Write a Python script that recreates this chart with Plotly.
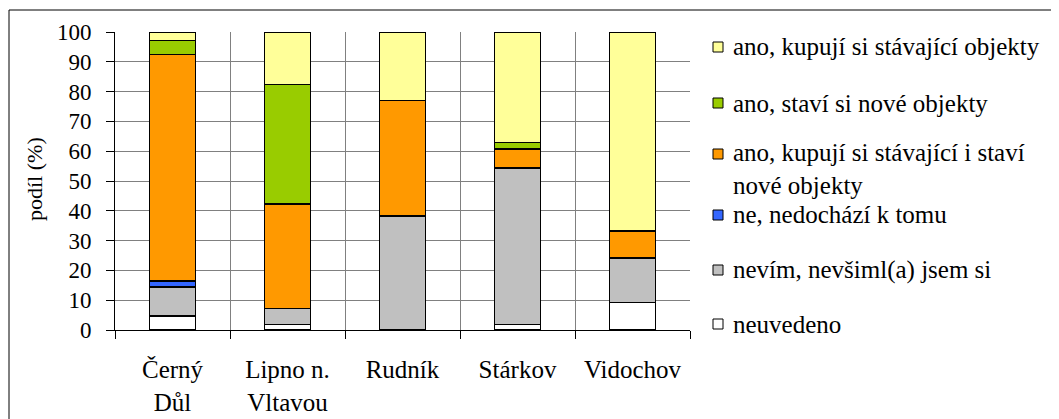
import plotly.graph_objects as go

categories = ["Černý<br>Důl", "Lipno n.<br>Vltavou", "Rudník", "Stárkov", "Vidochov"]

neuvedeno = [4.7, 1.9, 0.0, 1.9, 9.3]
nevim = [9.8, 5.3, 38.2, 52.4, 14.8]
ne_nedochazi = [2.0, 0.0, 0.0, 0.0, 0.0]
kupuji_i_stavi = [76.0, 35.0, 38.8, 6.4, 9.2]
stavi_nove = [4.6, 40.2, 0.0, 2.3, 0.0]
kupuji_stavajici = [2.9, 17.6, 23.0, 37.0, 66.7]

series_names = [
    "neuvedeno",
    "nevím, nevšiml(a) jsem si",
    "ne, nedochází k tomu",
    "ano, kupují si stávající i staví<br>nové objekty",
    "ano, staví si nové objekty",
    "ano, kupují si stávající objekty",
]
series_values = [neuvedeno, nevim, ne_nedochazi, kupuji_i_stavi, stavi_nove, kupuji_stavajici]
series_colors = ["#FFFFFF", "#C0C0C0", "#3366FF", "#FF9900", "#99CC00", "#FFFF99"]

y_ticks = list(range(0, 101, 10))
y_title = "podíl (%)"

OFF = 8  # page body margin of the HTML page
W, H = 1059 - OFF, 419 - OFF
L, R, T, B = 115 - OFF, 690 - OFF, 32 - OFF, 330 - OFF  # plot area in figure pixels


def px2x(px):  # screen px -> paper
    return (px - OFF - L) / (R - L)


def py2y(py):
    return (B - (py - OFF)) / (B - T)


FONT = "'Liberation Serif', 'Times New Roman', 'DejaVu Serif', serif"
LEG_SIZE = 25

fig = go.Figure()
for name, vals, col in zip(series_names, series_values, series_colors):
    fig.add_trace(go.Bar(
        x=categories, y=vals, name=name,
        marker=dict(color=col, line=dict(color="black", width=1.5)),
        showlegend=False,
    ))

# manual legend
legend_y = [324, 270, 215, 154, 103, 47]  # symbol centres (screen px), series in stacking order
shapes = []
annotations = []
for name, col, yc in zip(series_names, series_colors, legend_y):
    shapes.append(dict(type="rect", xref="paper", yref="paper",
                       x0=px2x(713), x1=px2x(723), y0=py2y(yc + 5), y1=py2y(yc - 5),
                       fillcolor=col, line=dict(color="black", width=1)))
    if "<br>" in name:
        annotations.append(dict(xref="paper", yref="paper", x=px2x(732), y=py2y(yc - 16),
                                xanchor="left", yanchor="top", align="left", showarrow=False,
                                borderpad=0,
                                text=name, font=dict(family=FONT, size=LEG_SIZE, color="black")))
    else:
        annotations.append(dict(xref="paper", yref="paper", x=px2x(732), y=py2y(yc),
                                xanchor="left", yanchor="middle", align="left", showarrow=False,
                                borderpad=0,
                                text=name, font=dict(family=FONT, size=LEG_SIZE, color="black")))

# y axis title
annotations.append(dict(xref="paper", yref="paper", x=px2x(34), y=py2y(179),
                        xanchor="center", yanchor="middle", textangle=-90, showarrow=False,
                        text=y_title, font=dict(family=FONT, size=22, color="black")))

# outer chart frame
shapes.append(dict(type="rect", xref="paper", yref="paper", layer="below",
                   x0=px2x(9), x1=px2x(1058), y0=py2y(440), y1=py2y(10),
                   line=dict(color="black", width=1), fillcolor="rgba(0,0,0,0)"))

fig.update_layout(
    width=W, height=H,
    margin=dict(l=L, r=W - R, t=T, b=H - B, pad=0, autoexpand=False),
    barmode="stack", bargap=0.6,
    plot_bgcolor="white", paper_bgcolor="white",
    font=dict(family=FONT, size=22, color="black"),
    shapes=shapes, annotations=annotations,
    showlegend=False,
)
fig.update_xaxes(
    type="category", tickson="boundaries", showgrid=True, gridcolor="#808080", gridwidth=1,
    showline=True, linecolor="black", linewidth=1, automargin=False,
    ticks="outside", ticklen=8, tickcolor="black",
    tickfont=dict(family=FONT, size=25, color="black"),
    ticklabelstandoff=17,
)
fig.update_yaxes(
    range=[0, 100], tickvals=y_ticks, showgrid=True, gridcolor="#808080", gridwidth=1,
    showline=True, linecolor="black", linewidth=1, zeroline=False, automargin=False,
    ticks="outside", ticklen=8, tickcolor="black",
    tickfont=dict(family=FONT, size=23, color="black"),
    ticklabelstandoff=10,
)

fig.write_html("out.html")
